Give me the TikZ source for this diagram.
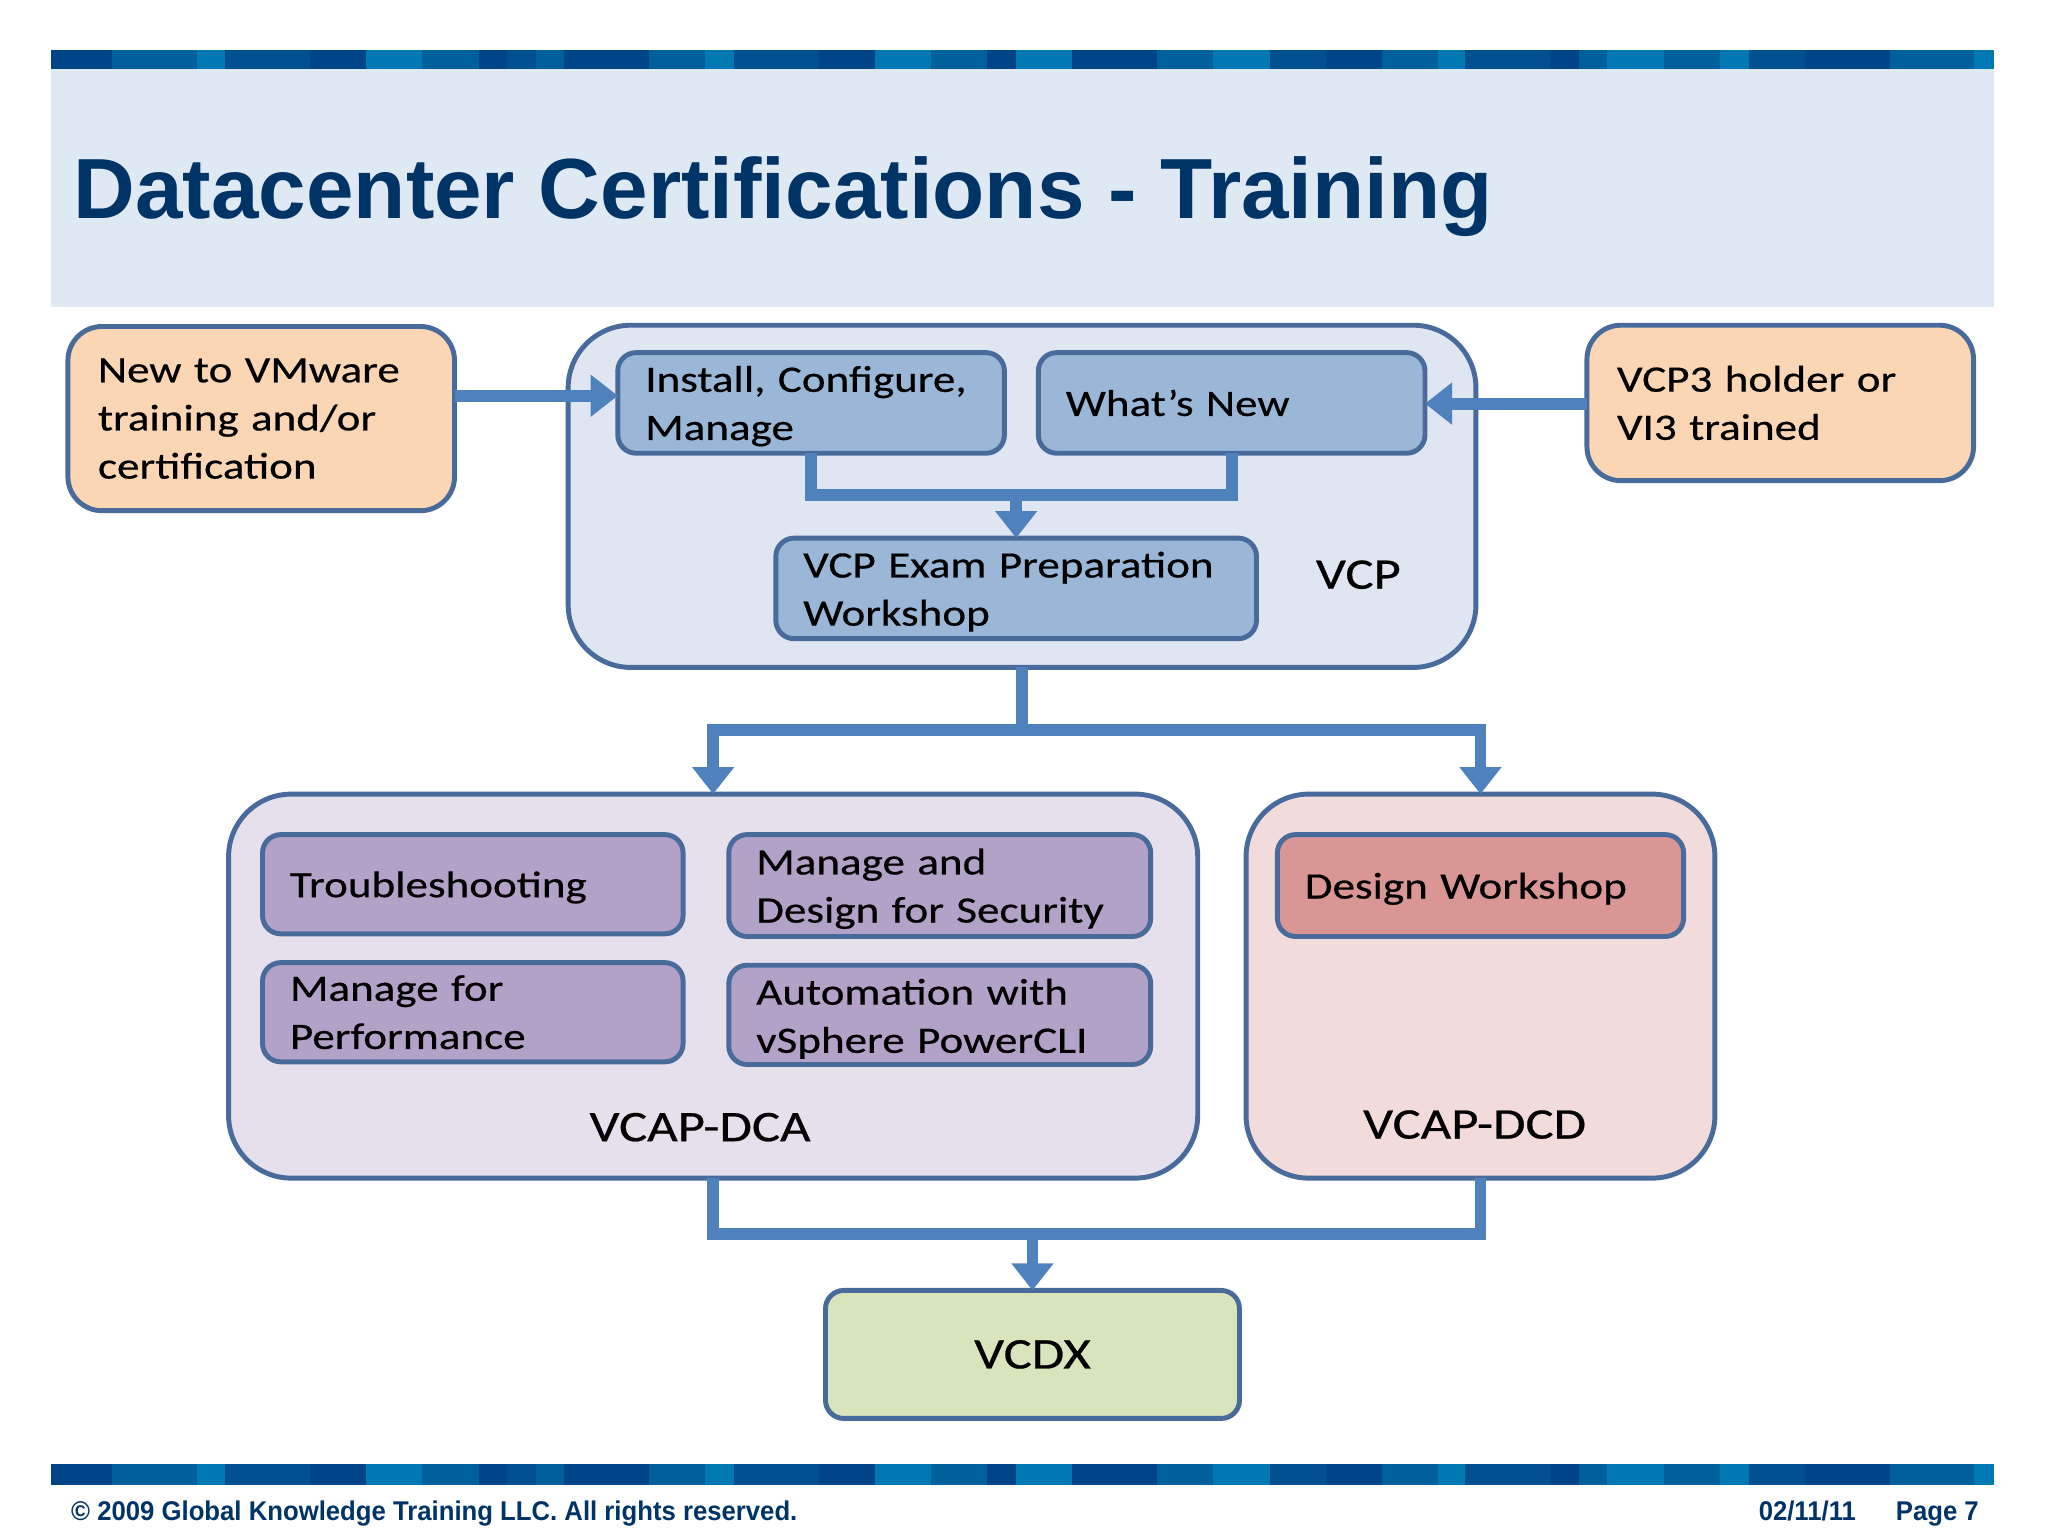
\documentclass[tikz,border=0pt]{standalone}
\usepackage{fontspec}
\setmainfont{Liberation Sans}
\newfontfamily\bodyf[FakeStretch=1.21,FakeBold=0.5]{Carlito}
\newfontfamily\footf[FakeStretch=0.95]{Liberation Sans}
\usetikzlibrary{arrows.meta}
\definecolor{hdrbg}{HTML}{DEE9F4}
\definecolor{titlec}{HTML}{003366}
\definecolor{edgec}{HTML}{486B9B}
\definecolor{conn}{HTML}{4F81BD}
\definecolor{orangef}{HTML}{FBD6B4}
\definecolor{bluein}{HTML}{9BB7D7}
\definecolor{blueout}{HTML}{DFE6F1}
\definecolor{purplein}{HTML}{B3A2C7}
\definecolor{purpleout}{HTML}{E6DFEC}
\definecolor{redin}{HTML}{D99694}
\definecolor{redout}{HTML}{F2DCDB}
\definecolor{greenf}{HTML}{D8E4BC}
\definecolor{sa}{HTML}{004488}
\definecolor{sb}{HTML}{00508F}
\definecolor{sc}{HTML}{00609C}
\definecolor{sd}{HTML}{0078B4}
\def\u{0.013061cm}
\newcommand{\topstrut}[1]{\rule{0pt}{#1}}
\tikzset{
  x=0.013061cm,y=-0.013061cm,
  box/.style={draw=edgec,line width=1.4pt,outer sep=0pt,inner ysep=0pt,inner xsep=21*\u,align=left,
    font=\bodyf\fontsize{10.6}{13.7}\selectfont,text=black,anchor=center},
  outerbox/.style={box,rounded corners=48*\u},
  sidebox/.style={box,fill=orangef,rounded corners=26*\u,inner xsep=23*\u},
  innerblue/.style={box,fill=bluein,rounded corners=14*\u},
  innerpurple/.style={box,fill=purplein,rounded corners=14*\u},
  lab/.style={font=\bodyf\fontsize{12.4}{14}\selectfont,text=black,inner sep=0pt},
  bar/.style={conn,line width=3.4pt},
  arr/.style={bar,-{Triangle[length=7.7pt,width=11.5pt]}},
  foot/.style={font=\footf\bfseries\fontsize{7.7}{9}\selectfont,text=titlec,inner sep=0pt,anchor=base west}
}
\newcommand{\stripband}[2]{%
  \foreach \a/\b/\c in {39/86/sa,86/151/sc,151/172/sd,172/237/sb,237/280/sa,280/323/sd,323/367/sc,367/388/sa,388/410/sb,410/432/sc,432/497/sa,497/540/sc,540/562/sd,562/627/sb,627/670/sa,670/713/sd,713/756/sc,756/778/sa,778/821/sd,821/886/sa,886/929/sc,929/972/sd,972/1015/sb,1015/1058/sa,1058/1101/sc,1101/1122/sd,1122/1187/sb,1187/1209/sa,1209/1230/sc,1230/1274/sd,1274/1317/sc,1317/1339/sd,1339/1382/sb,1382/1447/sa,1447/1511/sc,1511/1527/sd}
    {\fill[\c] (\a,#1) rectangle (\b,#2);}}
\begin{document}
\begin{tikzpicture}
\useasboundingbox (0,0) rectangle (1568,1176);
\fill[white] (0,0) rectangle (1568,1176);
\fill[hdrbg] (39,53) rectangle (1527,235);
\stripband{38}{53}
\stripband{1121}{1137}
\node[anchor=base west,inner sep=0pt,font=\bfseries\fontsize{24.3}{28}\selectfont,text=titlec] (title) at (56,167) {Datacenter Certifications - Training};

% containers
\node[outerbox,fill=blueout,minimum width=695*\u,minimum height=262*\u] (vcp) at (782.5,380) {};
\node[outerbox,fill=purpleout,minimum width=742*\u,minimum height=294*\u] (dca) at (546,755) {};
\node[outerbox,fill=redout,minimum width=359*\u,minimum height=294*\u] (dcd) at (1133.5,755) {};

% side boxes
\node[sidebox,minimum width=296*\u,minimum height=141*\u,text width=250*\u] (newto) at (200,320.5) {New to VMware\\training and/or\\certification};
\node[sidebox,minimum width=296*\u,minimum height=119*\u,text width=250*\u] (vcpthree) at (1363,308.5) {VCP3 holder or\\VI3 trained};

% inner nodes
\node[innerblue,minimum width=296*\u,minimum height=77*\u,text width=254*\u] (install) at (621,308.5) {\topstrut{9.2pt}Install, Configure,\\Manage};
\node[innerblue,minimum width=296*\u,minimum height=77*\u,text width=254*\u] (whatsnew) at (943,308.5) {What’s New};
\node[innerblue,minimum width=368*\u,minimum height=77*\u,text width=326*\u] (exam) at (778,450.5) {\topstrut{9.2pt}VCP Exam Preparation\\Workshop};
\node[innerpurple,minimum width=322*\u,minimum height=76*\u,text width=280*\u] (trouble) at (362,677) {\topstrut{9.2pt}Troubleshooting};
\node[innerpurple,minimum width=323*\u,minimum height=78*\u,text width=281*\u] (security) at (719.5,678) {\topstrut{9.2pt}Manage and\\Design for Security};
\node[innerpurple,minimum width=322*\u,minimum height=76*\u,text width=280*\u] (perf) at (362,775) {Manage for\\Performance};
\node[innerpurple,minimum width=323*\u,minimum height=76*\u,text width=281*\u] (auto) at (719.5,777) {\topstrut{9.6pt}Automation with\\vSphere PowerCLI};
\node[box,fill=redin,rounded corners=14*\u,minimum width=311*\u,minimum height=78*\u,text width=269*\u] (design) at (1133.5,678) {\topstrut{9.2pt}Design Workshop};
\node[box,fill=greenf,rounded corners=14*\u,minimum width=317*\u,minimum height=98*\u,align=center,font=\bodyf\fontsize{12.4}{14}\selectfont] (vcdx) at (790.5,1037) {VCDX};

% labels
\node[lab] (vcplab) at (1040,440) {VCP};
\node[lab] (dcalab) at (536,863) {VCAP-DCA};
\node[lab] (dcdlab) at (1129,861) {VCAP-DCD};

% connector junctions
\coordinate (busa) at (782,379);
\coordinate (busb) at (782.5,559);
\coordinate (busc) at (790.5,945);
\coordinate (leftin) at (348,303);
\coordinate (rightin) at (1215,309);

% connectors
\draw[arr] (leftin) -- (leftin -| install.west);
\draw[arr] (rightin) -- (rightin -| whatsnew.east);
\draw[bar] (install.south) |- (busa) -| (whatsnew.south);
\draw[arr] (busa -| exam.north) -- (exam.north);
\draw[bar] (vcp.south) -- (busb);
\draw[arr] (busb) -| (dca.north);
\draw[arr] (busb) -| (dcd.north);
\draw[bar] (dca.south) |- (busc) -| (dcd.south);
\draw[arr] (busc) -- (vcdx.north);

% footer
\node[foot] (copy) at (54,1164) {© 2009 Global Knowledge Training LLC. All rights reserved.};
\node[foot] (fdate) at (1346,1164) {02/11/11};
\node[foot] (fpage) at (1451,1164) {Page 7};
\end{tikzpicture}
\end{document}
